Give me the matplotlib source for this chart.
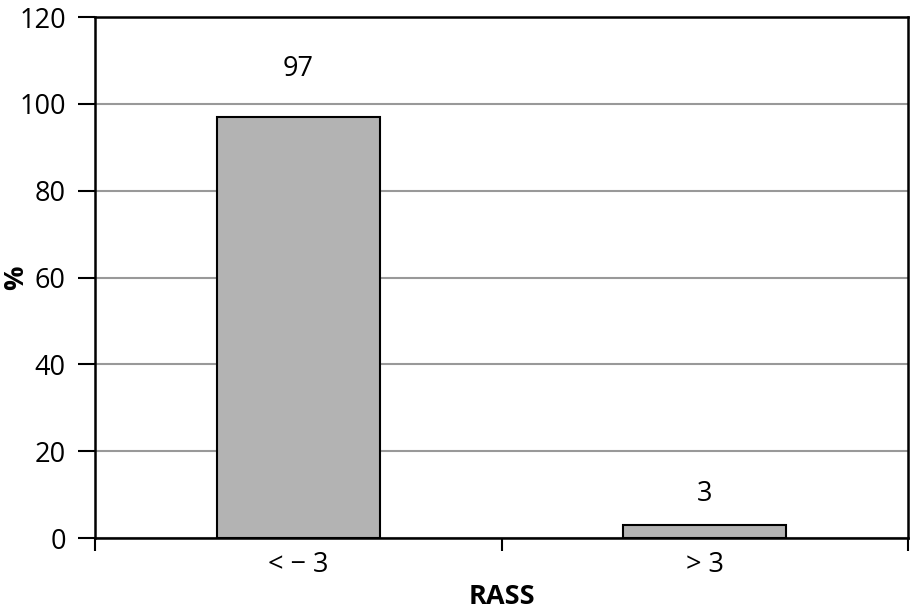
import matplotlib
matplotlib.use('Agg')
import matplotlib.pyplot as plt
from matplotlib.ticker import FixedLocator, NullFormatter, FixedFormatter

# 数据
categories = ['< \u2212 3', '> 3']
values = [97, 3]
label_offsets = [7.8, 3.8]
y_ticks = [0, 20, 40, 60, 80, 100, 120]

plt.rcParams['font.family'] = ['Open Sans', 'DejaVu Sans']

fig = plt.figure(figsize=(9.11, 6.10), dpi=100)
ax = fig.add_axes([0.1043, 0.118, 0.8924, 0.8541])

x_pos = [i + 0.5 for i in range(len(categories))]
ax.bar(x_pos, values, width=0.4, color='#b3b3b3', edgecolor='black', linewidth=1.5, zorder=3)

for x, v, off in zip(x_pos, values, label_offsets):
    ax.text(x, v + off, str(v), ha='center', va='bottom', fontsize=19.5, zorder=4)

ax.set_xlim(0, len(categories))
ax.set_ylim(0, 120)
ax.set_yticks(y_ticks)
ax.yaxis.grid(True, color='#999999', linewidth=1.5, zorder=0)
ax.tick_params(axis='y', direction='out', length=12, width=1.5, pad=9, labelsize=19.5)

# 主刻度在类别边界，次刻度承载标签
ax.xaxis.set_major_locator(FixedLocator(list(range(len(categories) + 1))))
ax.xaxis.set_major_formatter(NullFormatter())
ax.xaxis.set_minor_locator(FixedLocator(x_pos))
ax.xaxis.set_minor_formatter(FixedFormatter(categories))
ax.tick_params(axis='x', which='major', direction='out', length=9, width=1.5)
ax.tick_params(axis='x', which='minor', length=0, pad=9, labelsize=19.5)

for s in ax.spines.values():
    s.set_linewidth(1.8)
    s.set_color('black')

ax.set_xlabel('RASS', fontsize=19.5, fontweight='bold', labelpad=4)
ax.set_ylabel('%', fontsize=19.5, fontweight='bold')
ax.yaxis.set_label_coords(-0.081, 0.5)

fig.savefig('out.png', dpi=100)
